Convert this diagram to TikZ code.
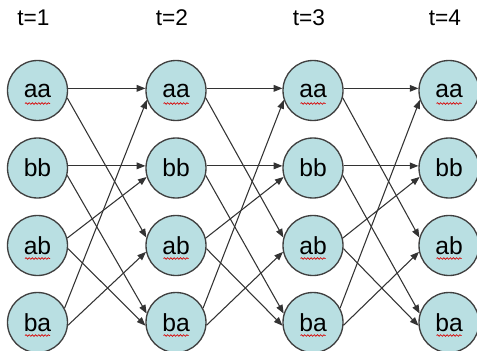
\documentclass[tikz,border=0pt]{standalone}
\usepackage{fontspec}
\setmainfont{Liberation Sans}
\usetikzlibrary{arrows.meta,decorations.pathmorphing}
\definecolor{nodefill}{HTML}{B9DFE2}
\definecolor{nodeline}{HTML}{404040}
\tikzset{
  state/.style={circle,draw=nodeline,line width=1pt,fill=nodefill,minimum size=45pt,inner sep=0pt,font=\fontsize{18.5}{20}\selectfont},
  tlabel/.style={font=\fontsize{17}{19}\selectfont,inner sep=0pt},
  conn/.style={draw=black!80,line width=0.8pt,-{Triangle[length=6.5pt,width=5pt]}},
  squig/.style={draw=red!85!black,line width=0.5pt,decorate,decoration={snake,amplitude=0.6pt,segment length=2.4pt}}
}
\begin{document}
\begin{tikzpicture}[x=0.75pt,y=-0.75pt]
\useasboundingbox (0,0) rectangle (477,350);
\foreach \i/\x in {1/37.5,2/176,3/313,4/449}{
  \node[tlabel] (t\i) at (\x-4,18) {t=\i};
  \node[state] (aa\i) at (\x,90.5) {aa};
  \node[state] (bb\i) at (\x,168) {bb};
  \node[state] (ab\i) at (\x,245.5) {ab};
  \node[state] (ba\i) at (\x,322.5) {ba};
  \draw[squig] (\x-12.5,103.5) -- (\x+12.5,103.5);
  \draw[squig] (\x-12.5,258.5) -- (\x+12.5,258.5);
  \draw[squig] (\x-12.5,335.5) -- (\x+12.5,335.5);
}
\foreach \a/\b in {1/2,2/3,3/4}{
  \draw[conn] (aa\a.4) -- (aa\b.176);
  \draw[conn] (aa\a.-14) -- (ab\b.165);
  \draw[conn] (bb\a.4) -- (bb\b.176);
  \draw[conn] (bb\a.-14) -- (ba\b.163);
  \draw[conn] (ab\a.14) -- (bb\b.-163);
  \draw[conn] (ab\a.-6) -- (ba\b.-174);
  \draw[conn] (ba\a.28) -- (aa\b.-162);
  \draw[conn] (ba\a.-5) -- (ab\b.-168);
}
\end{tikzpicture}
\end{document}
